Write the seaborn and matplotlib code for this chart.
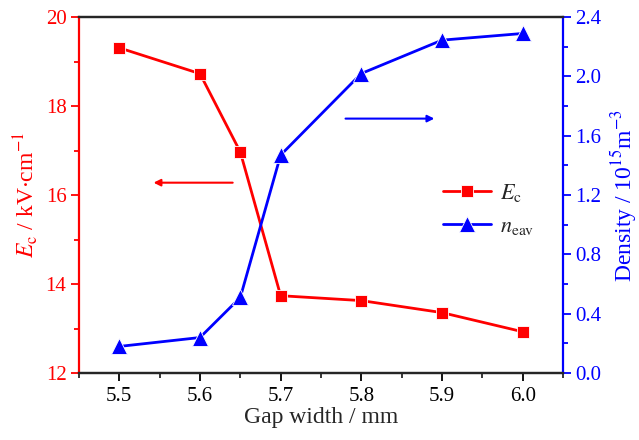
import matplotlib
matplotlib.use("Agg")
import matplotlib.pyplot as plt
from matplotlib.ticker import MultipleLocator
import seaborn as sns
import pandas as pd

# ---------------- data ----------------
gap = [5.5, 5.6, 5.65, 5.7, 5.8, 5.9, 6.0]
ec = [19.31, 18.73, 16.97, 13.74, 13.63, 13.36, 12.93]
neav = [0.18, 0.24, 0.51, 1.47, 2.02, 2.245, 2.29]

df = pd.DataFrame({"gap": gap, "ec": ec, "neav": neav})

sns.set_style("ticks")
plt.rcParams["font.family"] = ["Liberation Serif", "DejaVu Serif"]
plt.rcParams["mathtext.fontset"] = "stix"

fig = plt.figure(figsize=(6.39, 4.40), dpi=100)
ax1 = fig.add_axes([0.1236, 0.152, 0.7574, 0.809])
ax2 = ax1.twinx()

sns.lineplot(data=df, x="gap", y="ec", ax=ax1, color="red", marker="s",
             markersize=8.5, markeredgecolor="white", markeredgewidth=0.6,
             linewidth=2, label=r"$E_\mathrm{c}$", legend=False)
sns.lineplot(data=df, x="gap", y="neav", ax=ax2, color="blue", marker="^",
             markersize=11, markeredgecolor="white", markeredgewidth=0.6,
             linewidth=2, label=r"$n_\mathrm{eav}$", legend=False)

ax1.set_xlim(5.45, 6.05)
ax1.set_ylim(12, 20)
ax2.set_ylim(0, 2.4)

ax1.xaxis.set_major_locator(MultipleLocator(0.1))
ax1.xaxis.set_minor_locator(MultipleLocator(0.05))
ax1.yaxis.set_major_locator(MultipleLocator(2))
ax1.yaxis.set_minor_locator(MultipleLocator(1))
ax2.yaxis.set_major_locator(MultipleLocator(0.4))
ax2.yaxis.set_minor_locator(MultipleLocator(0.2))
ax2.yaxis.set_major_formatter(plt.FormatStrFormatter("%.1f"))

for ax in (ax1, ax2):
    for s in ax.spines.values():
        s.set_linewidth(1.6)
        s.set_visible(True)
ax1.spines["left"].set_color("red")
ax2.spines["left"].set_visible(False)
ax1.spines["right"].set_visible(False)
ax2.spines["right"].set_color("blue")

ax1.tick_params(axis="x", which="major", direction="out", length=6, width=1.3,
                labelsize=15, colors="black", top=False, pad=4)
ax1.tick_params(axis="x", which="minor", direction="out", length=3.5, width=1.3, top=False)
ax1.tick_params(axis="y", which="major", direction="out", length=6, width=1.3,
                labelsize=15, colors="red", pad=3)
ax1.tick_params(axis="y", which="minor", direction="out", length=3.5, width=1.3, colors="red")
ax2.tick_params(axis="y", which="major", direction="out", length=6, width=1.3,
                labelsize=15, colors="blue", pad=3)
ax2.tick_params(axis="y", which="minor", direction="out", length=3.5, width=1.3, colors="blue")

ax1.set_xlabel("Gap width / mm", fontsize=17, labelpad=1)
ax1.set_ylabel(r"$E_\mathrm{c}$ / kV$\cdot$cm$^{-1}$", fontsize=17, color="red", labelpad=4)
ax2.set_ylabel(r"Density / 10$^{15}$m$^{-3}$", fontsize=17, color="blue", labelpad=5)

# direction arrows
ax1.annotate("", xy=(5.539, 16.28), xytext=(5.644, 16.28),
             arrowprops=dict(arrowstyle="-|>", color="red", lw=1.5, mutation_scale=10))
ax1.annotate("", xy=(5.894, 17.72), xytext=(5.777, 17.72),
             arrowprops=dict(arrowstyle="-|>", color="blue", lw=1.5, mutation_scale=10))

h1, l1 = ax1.get_legend_handles_labels()
h2, l2 = ax2.get_legend_handles_labels()
ax1.legend(h1 + h2, l1 + l2, loc="center left", bbox_to_anchor=(0.71, 0.46),
           frameon=False, fontsize=16, handlelength=2.2, labelspacing=0.55,
           handletextpad=0.4)

fig.savefig("out.png", dpi=100)
